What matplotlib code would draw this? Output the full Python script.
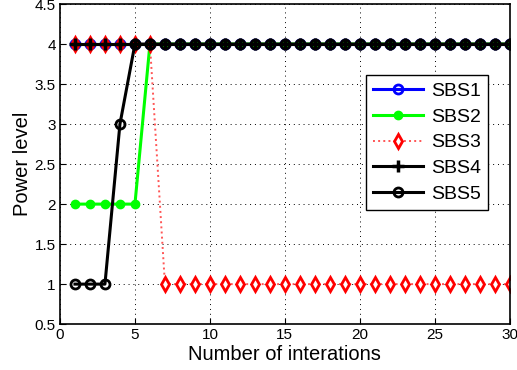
import matplotlib
matplotlib.use("Agg")
import matplotlib.pyplot as plt
import numpy as np

iterations = list(range(1, 31))
sbs1 = [4] * 30
sbs2 = [2, 2, 2, 2, 2] + [4] * 25
sbs3 = [4, 4, 4, 4, 4, 4] + [1] * 24
sbs4 = [4] * 30
sbs5 = [1, 1, 1, 3] + [4] * 26

plt.rcParams["font.family"] = ["Liberation Sans", "DejaVu Sans"]

fig = plt.figure(figsize=(5.17, 3.70), dpi=100)
ax = fig.add_axes([0.116, 0.124, 0.87, 0.865])

ax.plot(iterations, sbs1, color="blue", lw=2.2, marker="o", ms=6.5,
        mfc="none", mew=2, label="SBS1")
ax.plot(iterations, sbs2, color="#00ff00", lw=2.2, marker=".", ms=12,
        label="SBS2")
ax.plot(iterations, sbs3, color="#ff5555", lw=1.4, ls=":", marker="d",
        ms=7, mfc="white", mec="red", mew=2, label="SBS3")
ax.plot(iterations, sbs4, color="black", lw=2.2, marker="+", ms=9,
        mew=2.5, label="SBS4")
ax.plot(iterations, sbs5, color="black", lw=2.2, marker="o", ms=6.5,
        mfc="none", mew=2, label="SBS5")

ax.set_xlim(0, 30)
ax.set_ylim(0.5, 4.5)
ax.set_xticks(np.arange(0, 31, 5))
ax.set_yticks(np.arange(0.5, 4.6, 0.5))
ax.set_yticklabels(["0.5", "1", "1.5", "2", "2.5", "3", "3.5", "4", "4.5"])
ax.tick_params(direction="in", labelsize=11, length=4, pad=3)
ax.grid(True, color="black", ls=(0, (1, 4)), lw=0.7)
for s in ax.spines.values():
    s.set_linewidth(1.2)

ax.set_xlabel("Number of interations", fontsize=14.5, labelpad=2)
ax.set_ylabel("Power level", fontsize=14.5, labelpad=2)

leg = ax.legend(loc="upper right", bbox_to_anchor=(0.951, 0.777),
                fontsize=14, fancybox=False, framealpha=1,
                edgecolor="black", handlelength=2.6, borderpad=0.35,
                labelspacing=0.42, handletextpad=0.4, borderaxespad=0)
leg.get_frame().set_linewidth(1.0)

fig.savefig("out.png", dpi=100)
